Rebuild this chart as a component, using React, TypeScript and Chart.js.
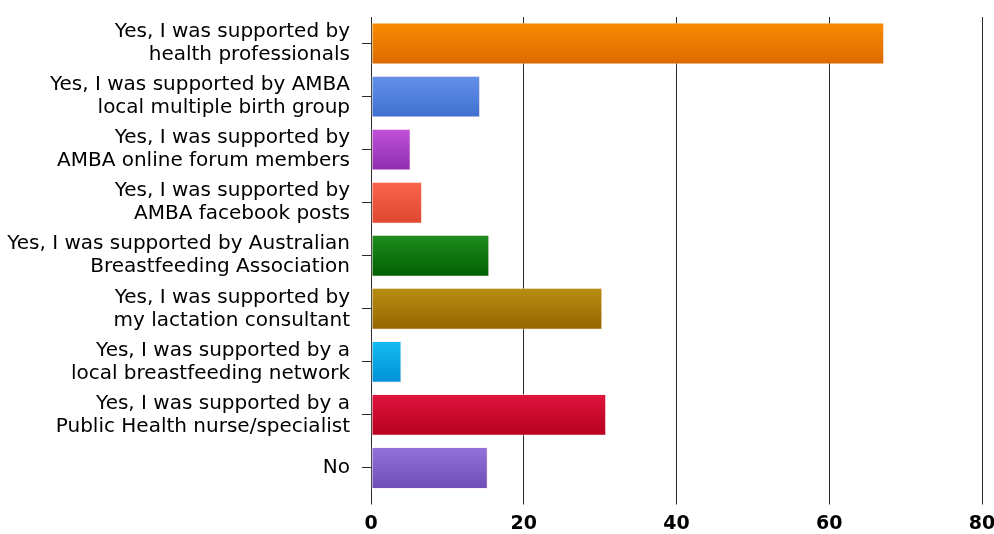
import React, { useEffect, useRef } from "react";
import { Chart, registerables } from "chart.js";

Chart.register(...registerables);

const categories: string[][] = [
  ["Yes, I was supported by", "health professionals"],
  ["Yes, I was supported by AMBA", "local multiple birth group"],
  ["Yes, I was supported by", "AMBA online forum members"],
  ["Yes, I was supported by", "AMBA facebook posts"],
  ["Yes, I was supported by Australian", "Breastfeeding Association"],
  ["Yes, I was supported by", "my lactation consultant"],
  ["Yes, I was supported by a", "local breastfeeding network"],
  ["Yes, I was supported by a", "Public Health nurse/specialist"],
  ["No"],
];

const values: number[] = [67.2, 14.3, 5.2, 6.7, 15.5, 30.3, 4.0, 30.8, 15.3];

const topColors: string[] = ["#FA8C02", "#6492EA", "#C152D9", "#F9654B", "#1E8E1E", "#B78E12", "#14BCF2", "#E0153E", "#9372DB"];
const bottomColors: string[] = ["#DA6A00", "#3F6ECF", "#8E2DAE", "#DE4630", "#005F00", "#946600", "#0090D6", "#B5001E", "#6E4EB6"];

const xTicks: number[] = [0, 20, 40, 60, 80];

export default function App() {
  const ref = useRef<HTMLCanvasElement | null>(null);

  useEffect(() => {
    if (!ref.current) return;
    const half = 21;
    const chart = new Chart(ref.current, {
      type: "bar",
      data: {
        labels: categories,
        datasets: [
          {
            data: values,
            backgroundColor: (ctx: any) => {
              const i = ctx.dataIndex ?? 0;
              const ys = ctx.chart.scales?.y;
              if (!ys || ctx.type !== "data") return topColors[i];
              const c = ys.getPixelForValue(i);
              if (!isFinite(c)) return topColors[i];
              const g = ctx.chart.ctx.createLinearGradient(0, c - half, 0, c + half);
              g.addColorStop(0, topColors[i]);
              g.addColorStop(1, bottomColors[i]);
              return g;
            },
            borderColor: "rgba(255,230,230,0.6)",
            borderWidth: 1,
            borderSkipped: false,
            categoryPercentage: 1,
            barPercentage: 0.79,
          },
        ],
      },
      options: {
        indexAxis: "y",
        animation: false,
        responsive: false,
        maintainAspectRatio: false,
        layout: { padding: { top: 17, right: 12, left: 0, bottom: 0 } },
        plugins: { legend: { display: false }, tooltip: { enabled: false } },
        scales: {
          x: {
            min: 0,
            max: 80,
            afterBuildTicks: (axis: any) => {
              axis.ticks = xTicks.map((v) => ({ value: v }));
            },
            afterFit: (axis: any) => {
              axis.height = 39.5;
              axis.paddingLeft = 0;
              axis.paddingRight = 0;
            },
            grid: {
              color: "#2a2a2a",
              lineWidth: 1,
              drawTicks: true,
              tickLength: 10,
            },
            border: { display: false },
            ticks: {
              color: "#000",
              font: { family: "'DejaVu Sans', sans-serif", size: 19, weight: "bold" },
              padding: 8,
              maxRotation: 0,
            },
          },
          y: {
            afterFit: (axis: any) => {
              axis.width = 371;
              axis.paddingTop = 0;
              axis.paddingBottom = 0;
            },
            grid: {
              offset: false,
              drawOnChartArea: false,
              drawTicks: true,
              tickLength: 9,
              color: "#2a2a2a",
            },
            border: { display: true, color: "#2a2a2a" },
            ticks: {
              color: "#000",
              font: { family: "'DejaVu Sans', sans-serif", size: 20, lineHeight: 1.15 },
              padding: 12,
              autoSkip: false,
            },
          },
        },
      },
    } as any);
    return () => chart.destroy();
  }, []);

  return (
    <div style={{ position: "absolute", left: 0, top: 0, width: 994, height: 534, background: "#fff" }}>
      <canvas ref={ref} width={994} height={534} style={{ width: 994, height: 534 }} />
    </div>
  );
}
